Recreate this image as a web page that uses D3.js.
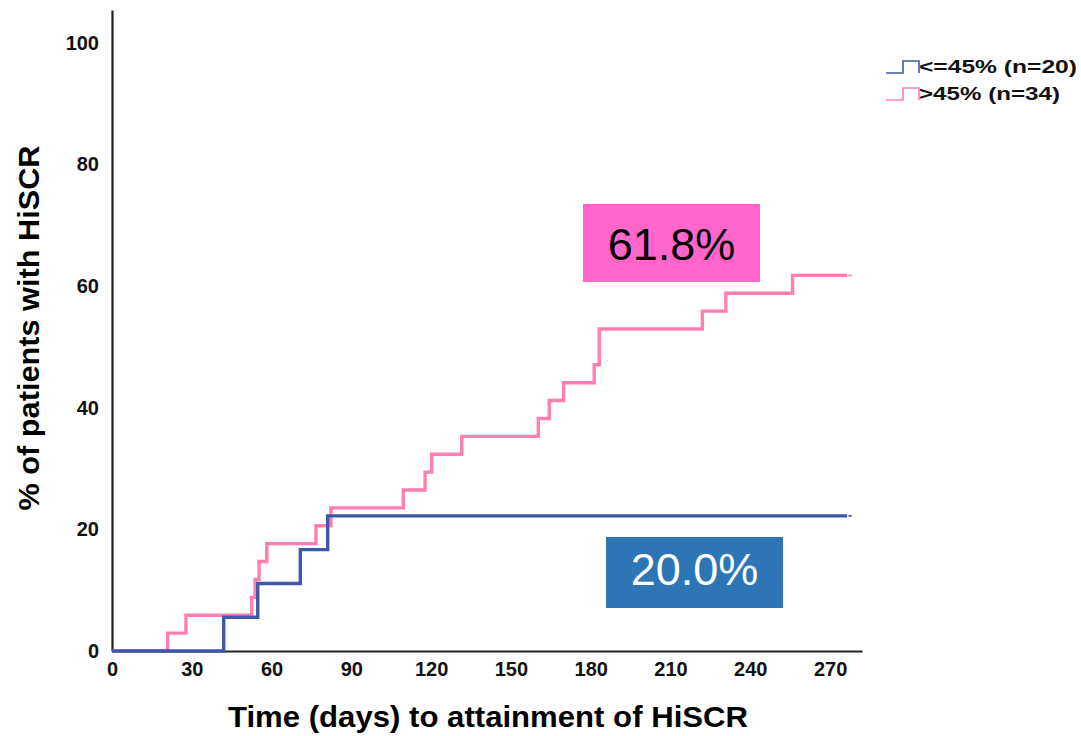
<!DOCTYPE html>
<html>
<head>
<meta charset="utf-8">
<script src="https://cdn.jsdelivr.net/npm/d3@7"></script>
<style>
  body { margin: 0; background: #fff; }
  text { font-family: "Liberation Sans", Arial, sans-serif; }
</style>
</head>
<body>
<svg id="chart" width="1081" height="736"></svg>
<script>
// ----- data -----
var xTicks = [0, 30, 60, 90, 120, 150, 180, 210, 240, 270];
var yTicks = [0, 20, 40, 60, 80, 100];

var lowTimes = [0, 42, 54.8, 70.8, 81.1, 277.8];
var lowPct   = [0, 5.56, 11.11, 16.67, 22.22, 22.22];

var highTimes = [0, 20.9, 27.8, 52.5, 53.8, 55.3, 58.2, 76.7, 82.3, 109.5, 117.7, 120.2,
                 131.5, 160.3, 164.4, 169.8, 181.3, 183.2, 222, 230.8, 255.9, 277.8];
var highPct   = [0, 2.94, 5.88, 8.82, 11.76, 14.71, 17.65, 20.59, 23.53, 26.47, 29.41, 32.35,
                 35.29, 38.24, 41.18, 44.12, 47.06, 52.94, 55.88, 58.82, 61.76, 61.76];

var legendLabels = ['<=45% (n=20)', '>45% (n=34)'];
var boxLabels = ['61.8%', '20.0%'];

var blue = '#3f58ab', pink = '#ff7eb3';

var svg = d3.select('#chart');

var x = d3.scaleLinear().domain([0, 282]).range([112, 862]);
var y = d3.scaleLinear().domain([0, 105.4]).range([651, 10]);

// ----- axes -----
var xAxis = svg.append('g')
  .attr('transform', 'translate(0,' + y(0) + ')')
  .call(d3.axisBottom(x).tickValues(xTicks).tickSize(0).tickPadding(11));
var yAxis = svg.append('g')
  .attr('transform', 'translate(' + x(0) + ',0)')
  .call(d3.axisLeft(y).tickValues(yTicks).tickSize(0).tickPadding(13));

[xAxis, yAxis].forEach(function(g){
  g.select('.domain').attr('stroke', '#222').attr('stroke-width', 2.2);
  g.selectAll('text').attr('font-size', 20).attr('font-weight', 'bold').attr('fill', '#111');
});

svg.append('text')
   .attr('x', 488).attr('y', 727)
   .attr('text-anchor', 'middle')
   .attr('font-size', 30).attr('font-weight', 'bold')
   .attr('textLength', 520).attr('lengthAdjust', 'spacingAndGlyphs')
   .text('Time (days) to attainment of HiSCR');

svg.append('text')
   .attr('transform', 'translate(39,328) rotate(-90)')
   .attr('text-anchor', 'middle')
   .attr('font-size', 29).attr('font-weight', 'bold')
   .attr('textLength', 365).attr('lengthAdjust', 'spacingAndGlyphs')
   .text('% of patients with HiSCR');

// ----- step curves -----
var line = d3.line()
  .x(function(d) {return x(d.t);})
  .y(function(d) {return y(d.p);})
  .curve(d3.curveStepAfter);

function toPoints(times, pct) {
  return times.map(function(t, i) {return {t: t, p: pct[i]};});
}

var series = [
  {name: 'high', color: pink, pts: toPoints(highTimes, highPct)},
  {name: 'low',  color: blue, pts: toPoints(lowTimes, lowPct)}
];

series.forEach(function(s){
  var pts = s.pts.slice(0, -1);
  var last = s.pts[s.pts.length - 1];
  // leave a small gap before the censor mark at the end
  pts.push({t: last.t - 1.4, p: last.p});
  svg.append('path')
     .datum(pts)
     .attr('d', line)
     .attr('fill', 'none')
     .attr('stroke', s.color)
     .attr('stroke-width', 3.4);
  svg.append('line')
     .attr('x1', x(last.t) - 2.5).attr('x2', x(last.t) + 1)
     .attr('y1', y(last.p)).attr('y2', y(last.p))
     .attr('stroke', s.color).attr('stroke-width', 1.6);
});

// ----- value boxes -----
var boxes = [
  {label: boxLabels[0], x: 583, y: 204, w: 177, h: 78, base: 260, fill: '#ff66cc', color: '#000'},
  {label: boxLabels[1], x: 606, y: 537, w: 177, h: 71, base: 585, fill: '#2e75b6', color: '#fff'}
];
boxes.forEach(function(b){
  svg.append('rect')
     .attr('x', b.x).attr('y', b.y).attr('width', b.w).attr('height', b.h)
     .attr('fill', b.fill);
  svg.append('text')
     .attr('x', b.x + b.w / 2).attr('y', b.base)
     .attr('text-anchor', 'middle')
     .attr('font-size', 45)
     .attr('fill', b.color)
     .text(b.label);
});

// ----- legend -----
var legendColors = [blue, pink];
var legendWidths = [158, 141];
legendLabels.forEach(function(lbl, i){
  var ly = 73 + i * 27;
  svg.append('path')
     .attr('d', 'M886,' + ly + 'H903V' + (ly - 12) + 'H919V' + ly)
     .attr('fill', 'none')
     .attr('stroke', legendColors[i])
     .attr('stroke-width', 1.6);
  svg.append('text')
     .attr('x', 919).attr('y', ly)
     .attr('font-size', 19).attr('font-weight', 'bold')
     .attr('textLength', legendWidths[i]).attr('lengthAdjust', 'spacingAndGlyphs')
     .attr('fill', '#111')
     .text(lbl);
});
</script>
</body>
</html>
